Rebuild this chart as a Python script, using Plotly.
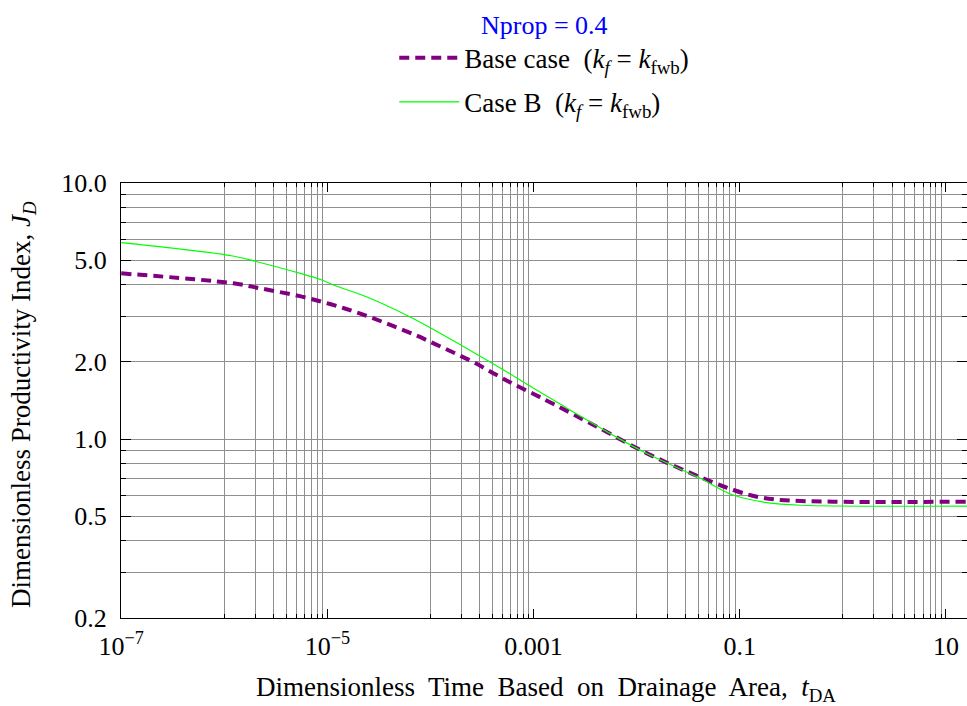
import plotly.graph_objects as go

# ---- data ----
t_base = [1e-7, 1.22e-6, 2.23e-6, 5.66e-6, 1.06e-5, 1.73e-5, 2.80e-5, 4.38e-5, 7.11e-5,
          1.11e-4, 1.74e-4, 2.72e-4, 4.25e-4, 6.38e-4, 1.0e-3, 1.56e-3, 4.11e-3,
          0.0126, 0.0356, 0.0869, 0.147, 0.247, 0.805, 16.0]
jd_base = [4.44, 4.06, 3.88, 3.60, 3.37, 3.17, 2.96, 2.76, 2.55,
           2.35, 2.16, 1.98, 1.79, 1.64, 1.50, 1.37, 1.117,
           0.879, 0.728, 0.632, 0.595, 0.578, 0.569, 0.569]

t_caseb = [1e-7, 1.21e-6, 2.07e-6, 5.45e-6, 8.85e-6, 1.14e-5, 2.42e-5, 6.35e-5, 1.24e-4,
           2.25e-4, 4.41e-4, 1.0e-3, 1.81e-3, 6.43e-3, 0.0116, 0.0228, 0.0413,
           0.0863, 0.183, 0.385, 16.0]
jd_caseb = [5.85, 5.19, 4.93, 4.44, 4.18, 4.00, 3.59, 3.00, 2.59,
            2.26, 1.93, 1.58, 1.37, 1.015, 0.892, 0.784, 0.702,
            0.604, 0.564, 0.551, 0.547]

x_tickvals = [1e-7, 1e-5, 1e-3, 0.1, 10]
x_ticktext = ["10<sup>\u22127</sup>", "10<sup>\u22125</sup>", "0.001", "0.1", "10"]
x_grid_decades = [1e-6, 1e-4, 1e-2, 1]
x_grid_mult = [1, 2, 3, 4, 5, 6, 7, 8, 9]

y_tickvals = [0.2, 0.5, 1, 2, 5, 10]
y_ticktext = ["0.2", "0.5", "1.0", "2.0", "5.0", "10.0"]
y_minorvals = [0.3, 0.4, 0.6, 0.7, 0.8, 0.9, 3, 4, 6, 7, 8, 9]

name_base = "Base case  (<i>k</i><sub><i>f</i></sub> = <i>k</i><sub>fwb</sub>)"
name_caseb = "Case B  (<i>k</i><sub><i>f</i></sub> = <i>k</i><sub>fwb</sub>)"
legend_title = "Nprop = 0.4"

FONT = "Liberation Serif"
GRID = "#8f8f8f"

x_minorvals = [d * m for d in x_grid_decades for m in x_grid_mult]

fig = go.Figure()
fig.add_trace(go.Scatter(x=t_base, y=jd_base, mode="lines", name=name_base,
                         legendgroup="a",
                         line=dict(color="#800080", width=4, dash="10px,6px", shape="spline")))
fig.add_trace(go.Scatter(x=t_caseb, y=jd_caseb, mode="lines", name=name_caseb,
                         legendgroup="b",
                         line=dict(color="#00ff00", width=1.2, shape="spline")))

fig.update_layout(
    width=967, height=706,
    margin=dict(l=121, r=0, t=183, b=88),
    paper_bgcolor="white", plot_bgcolor="white",
    font=dict(family=FONT, size=26, color="black"),
    showlegend=True,
    legend=dict(x=0.323, y=1.422, xanchor="left", yanchor="top",
                bgcolor="rgba(0,0,0,0)", font=dict(family=FONT, size=27, color="black"),
                title=dict(text=legend_title, side="top center",
                           font=dict(family=FONT, size=26, color="blue")),
                itemwidth=60, tracegroupgap=6),
    xaxis=dict(type="log", range=[-7.002, 1.204],
               tickmode="array", tickvals=x_tickvals, ticktext=x_ticktext,
               ticks="inside", ticklen=9, tickcolor="black",
               showgrid=False, zeroline=False,
               showline=True, linecolor="black", linewidth=1, mirror="allticks",
               ticklabelstandoff=5,
               tickfont=dict(family=FONT, size=26),
               minor=dict(tickmode="array", tickvals=x_minorvals, ticks="inside",
                          ticklen=4, tickcolor="black",
                          showgrid=True, gridcolor=GRID, gridwidth=1)),
    yaxis=dict(type="log", range=[-0.6995, 1.0005],
               tickmode="array", tickvals=y_tickvals, ticktext=y_ticktext,
               ticks="inside", ticklen=10, tickcolor="black",
               showgrid=True, gridcolor=GRID, gridwidth=1, zeroline=False,
               showline=True, linecolor="black", linewidth=1, mirror="allticks",
               ticklabelstandoff=8,
               tickfont=dict(family=FONT, size=26),
               minor=dict(tickmode="array", tickvals=y_minorvals, ticks="inside",
                          ticklen=5, tickcolor="black",
                          showgrid=True, gridcolor=GRID, gridwidth=1)),
    annotations=[
        dict(text="Dimensionless  Time  Based  on  Drainage  Area,  <i>t</i><sub>DA</sub>",
             xref="paper", yref="paper", x=0.502, y=-0.163,
             xanchor="center", yanchor="middle", showarrow=False,
             font=dict(family=FONT, size=27, color="black")),
        dict(text="Dimensionless Productivity Index, <i>J</i><sub><i>D</i></sub>",
             xref="paper", yref="paper", x=-0.1158, y=0.49, textangle=-90,
             xanchor="center", yanchor="middle", showarrow=False,
             font=dict(family=FONT, size=27, color="black")),
    ],
)

fig.write_html("out.html")
